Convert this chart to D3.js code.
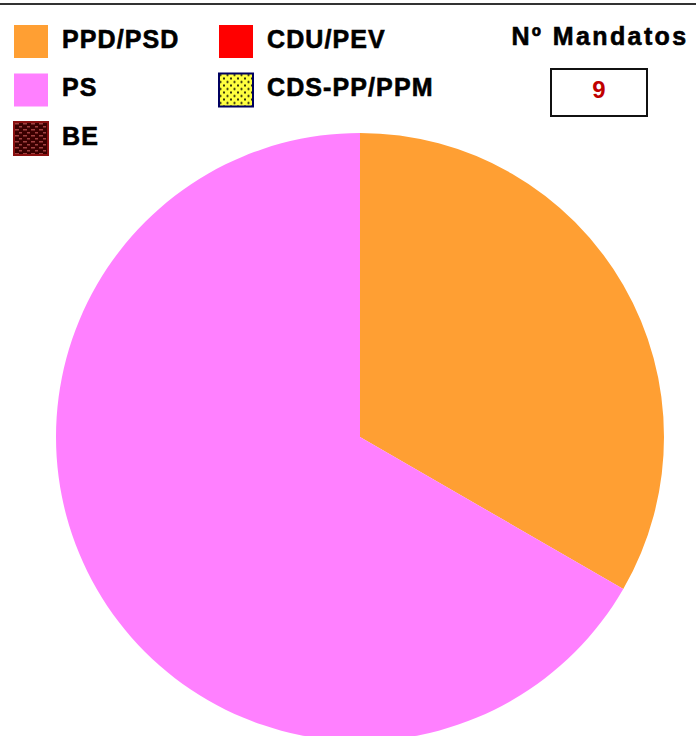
<!DOCTYPE html>
<html>
<head>
<meta charset="utf-8">
<script src="https://cdn.jsdelivr.net/npm/d3@7"></script>
<style>
  body { margin: 0; background: #fff; }
  svg text { font-family: "Liberation Sans", Arial, sans-serif; font-weight: bold; }
</style>
</head>
<body>
<script>
// seats per party (district with 9 mandates)
var parties = ["PPD/PSD", "PS", "BE", "CDU/PEV", "CDS-PP/PPM"];
var seats = [3, 6, 0, 0, 0];
var fills = ["#ff9f33", "#ff80ff", "url(#patBE)", "#ff0000", "url(#patCDS)"];
var totalLabel = "Nº Mandatos";

var width = 696, height = 736;

var svg = d3.select("body")
            .append("svg")
            .attr("width", width)
            .attr("height", height);

var defs = svg.append("defs");

// BE: dark maroon brick pattern
var pBE = defs.append("pattern").attr("id", "patBE")
  .attr("width", 8).attr("height", 6).attr("patternUnits", "userSpaceOnUse");
pBE.append("rect").attr("width", 8).attr("height", 6).attr("fill", "#3a0000");
pBE.append("rect").attr("x", 1).attr("y", 1).attr("width", 4).attr("height", 1.5).attr("fill", "#a04040");
pBE.append("rect").attr("x", 5).attr("y", 4).attr("width", 4).attr("height", 1.5).attr("fill", "#a04040");

// CDS: yellow with black dots
var pCDS = defs.append("pattern").attr("id", "patCDS")
  .attr("width", 7).attr("height", 7).attr("patternUnits", "userSpaceOnUse");
pCDS.append("rect").attr("width", 7).attr("height", 7).attr("fill", "#ffff40");
pCDS.append("circle").attr("cx", 1.5).attr("cy", 1.5).attr("r", 1.1).attr("fill", "#000");
pCDS.append("circle").attr("cx", 5).attr("cy", 5).attr("r", 1.1).attr("fill", "#000");

// top frame line
svg.append("line").attr("x1", 0).attr("y1", 4).attr("x2", width).attr("y2", 4)
  .attr("stroke", "#333").attr("stroke-width", 2);

// pie
var cx = 360, cy = 437, radius = 304;
var pie = d3.pie().sort(null).value(function(d) { return d; });
var arc = d3.arc().innerRadius(0).outerRadius(radius);

svg.append("g")
   .attr("transform", "translate(" + cx + "," + cy + ")")
  .selectAll("path")
   .data(pie(seats))
  .enter().append("path")
   .attr("d", arc)
   .attr("fill", function(d, i) { return fills[i]; });

// legend: two columns
var legendPos = [[14, 25], [14, 73.5], [14, 122], [219, 25], [219, 73.5]];
var borders = ["none", "none", "#8a1010", "none", "#000060"];

var legend = svg.append("g").attr("class", "legend")
  .selectAll("g")
  .data(parties)
  .enter().append("g")
  .attr("transform", function(d, i) { return "translate(" + legendPos[i][0] + "," + legendPos[i][1] + ")"; });

legend.append("rect")
  .attr("width", 34).attr("height", 33)
  .attr("fill", function(d, i) { return fills[i]; })
  .attr("stroke", function(d, i) { return borders[i]; })
  .attr("stroke-width", 2);

legend.append("text")
  .attr("x", 48).attr("y", 22.5)
  .style("font-size", "25px")
  .style("letter-spacing", "1.1px")
  .attr("fill", "#000")
  .attr("stroke", "#000").attr("stroke-width", 0.6)
  .text(function(d) { return d; });

// total mandates box
svg.append("text").attr("x", 600).attr("y", 45)
  .attr("text-anchor", "middle")
  .style("font-size", "25px")
  .style("letter-spacing", "2.4px")
  .attr("stroke", "#000").attr("stroke-width", 0.6)
  .text(totalLabel);

svg.append("rect").attr("x", 551).attr("y", 69).attr("width", 96).attr("height", 47)
  .attr("fill", "#fff").attr("stroke", "#111").attr("stroke-width", 2);

svg.append("text").attr("x", 599).attr("y", 98)
  .attr("text-anchor", "middle")
  .style("font-size", "24px")
  .attr("fill", "#c00000")
  .text(d3.sum(seats));
</script>
</body>
</html>
